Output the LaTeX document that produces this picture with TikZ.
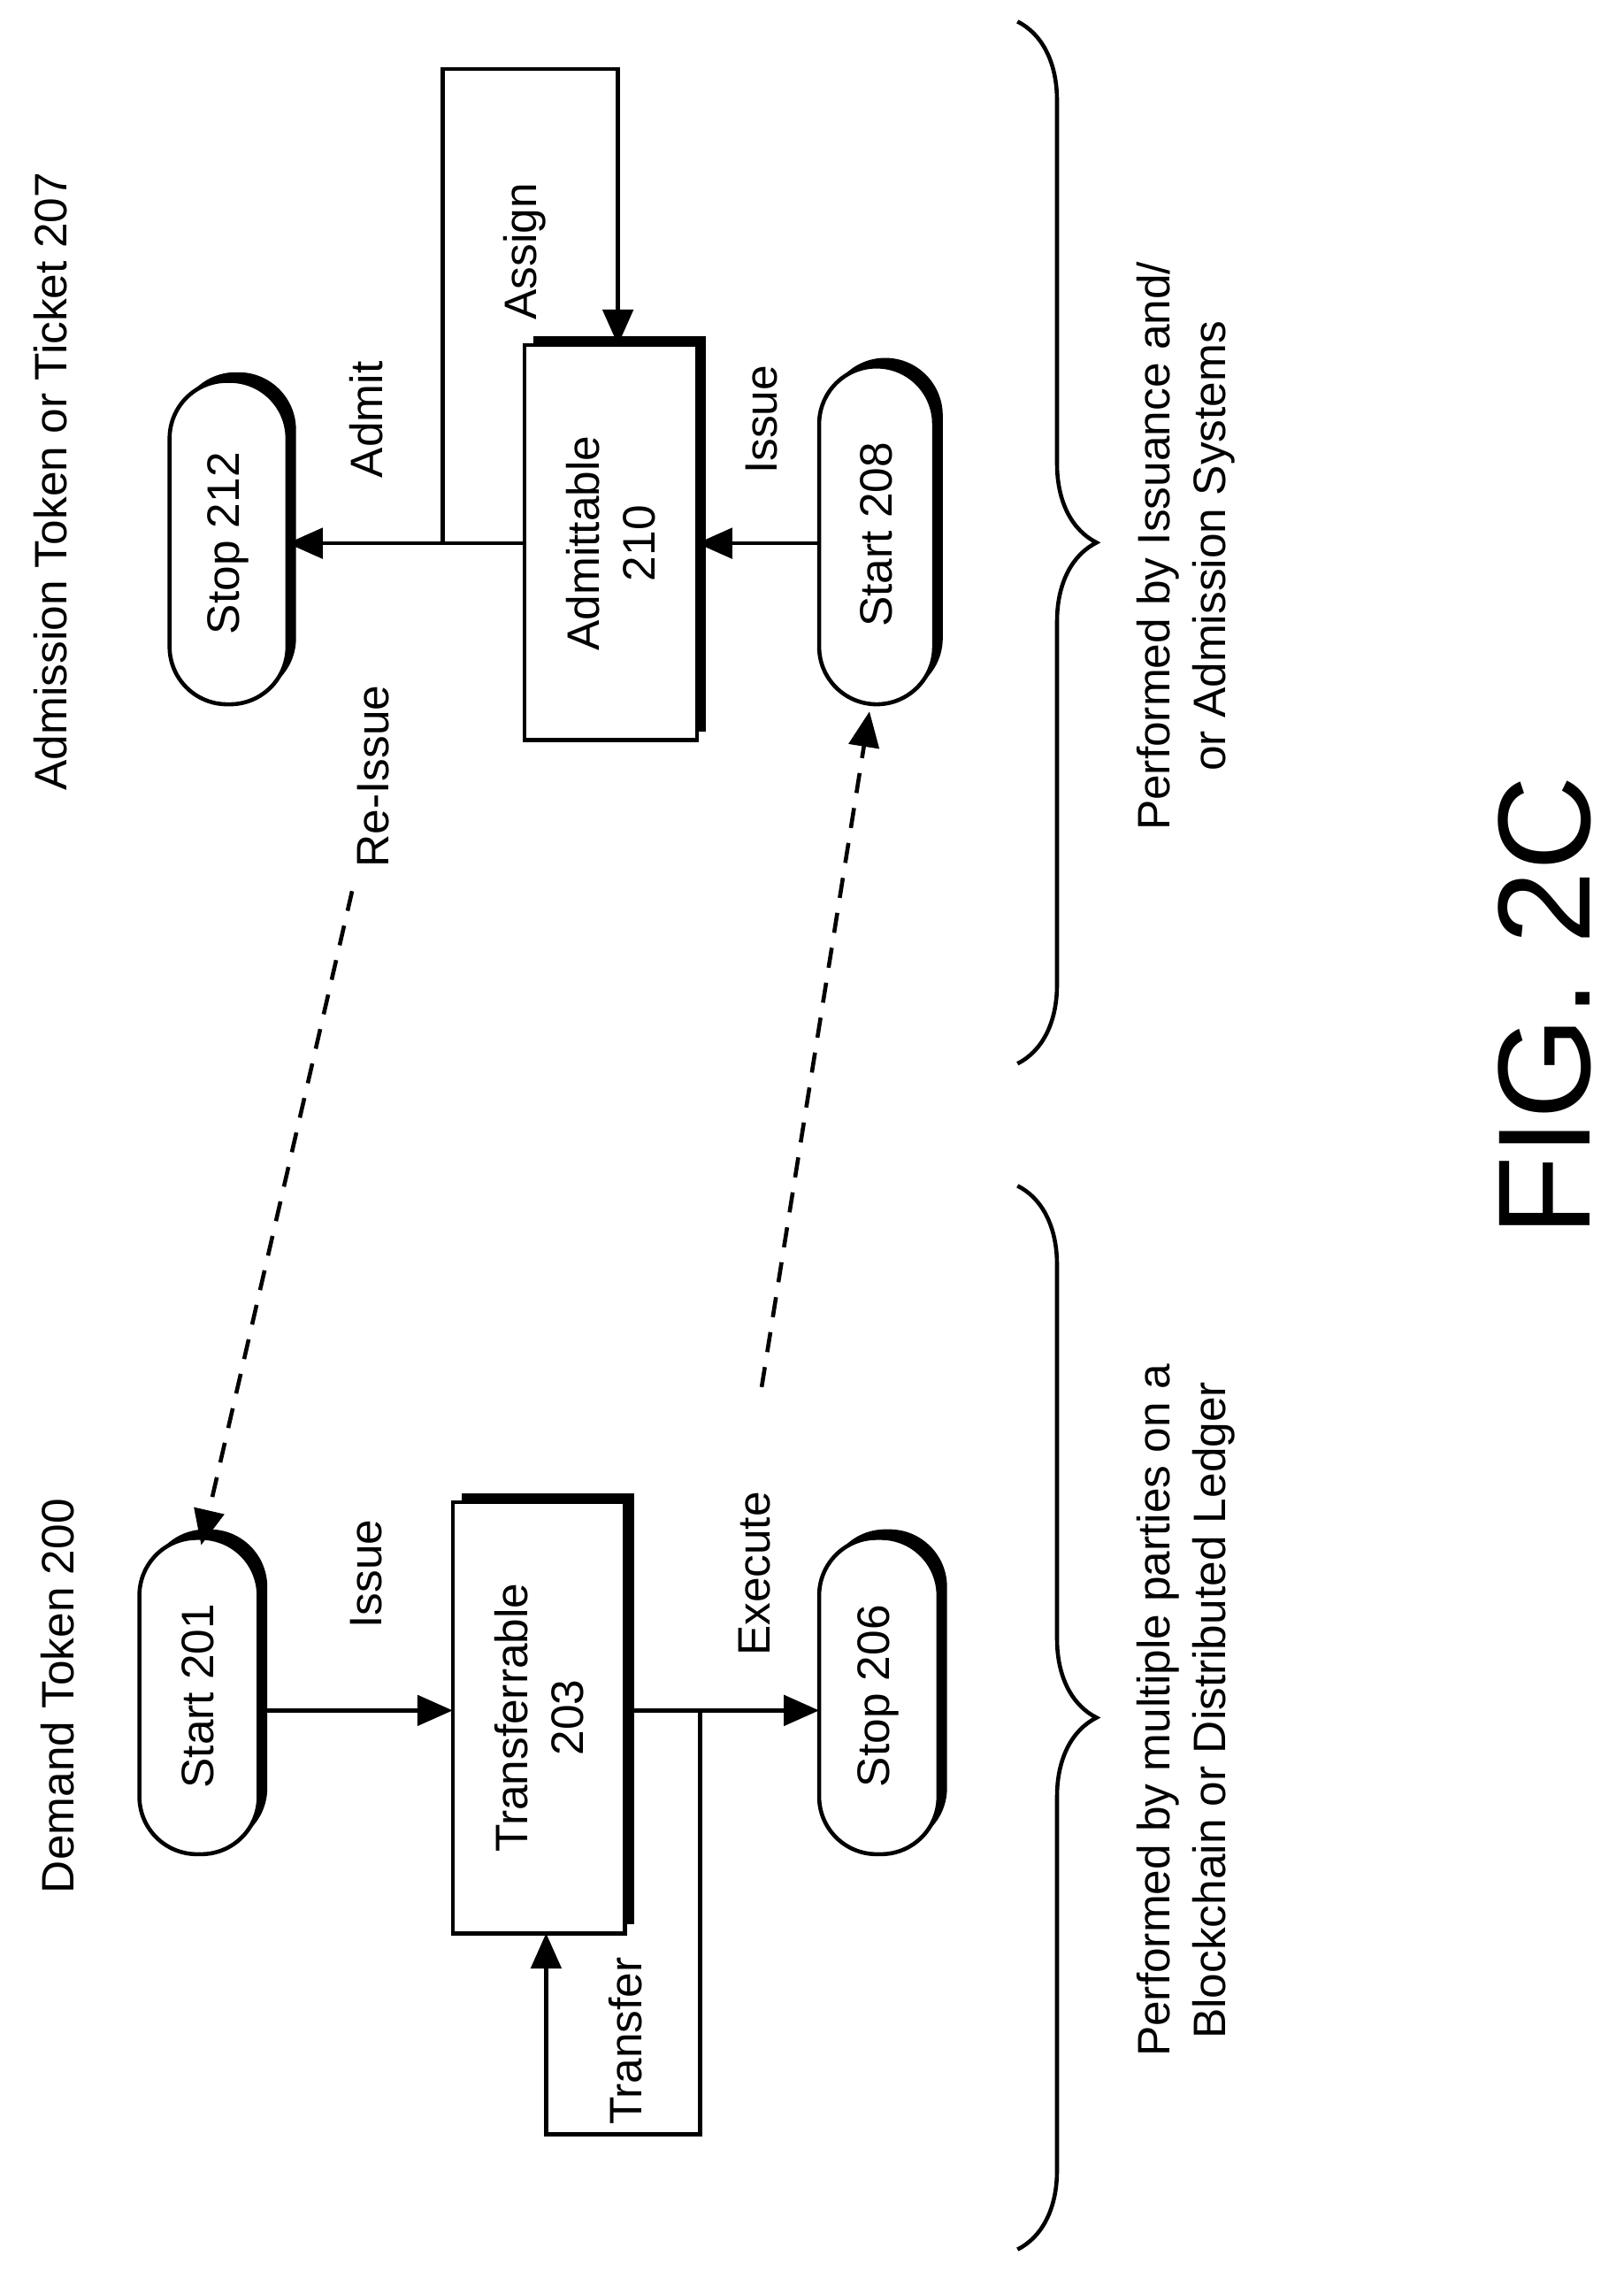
\documentclass[tikz,border=0pt]{standalone}
\usepackage{fontspec}
\setmainfont{Liberation Sans}
\usetikzlibrary{decorations.pathreplacing,arrows.meta}
\begin{document}
\begin{tikzpicture}[x=0.01cm,y=-0.01cm,
  lbl/.style={rotate=90,font=\fontsize{9}{11}\selectfont,align=center},
  arr/.style={-{Triangle[length=7pt,width=6pt]},line width=0.8pt},
  dsh/.style={arr,dashed,dash pattern=on 4pt off 3pt},
  ln/.style={line width=0.8pt},
  br/.style={decorate,decoration={brace,amplitude=0.55cm},line width=0.8pt},
  stad/.style={draw,line width=0.8pt,fill=white,rounded corners=0.4cm},
  shad/.style={fill,rounded corners=0.4cm}]
\useasboundingbox (0,0) rectangle (1130,1580);
% Start 201
\path[shad] (103,1064) rectangle (186,1284);
\draw[stad] (97,1070) rectangle (180,1290);
\node[lbl] (s201) at (138,1180) {Start 201};
% Transferrable 203
\fill (321,1039) rectangle (441,1339);
\draw[ln,fill=white] (315,1045) rectangle (435,1345);
\node[lbl] (t203) at (375,1195) {Transferrable\\203};
% Stop 206
\path[shad] (576,1064) rectangle (659,1284);
\draw[stad] (570,1070) rectangle (653,1290);
\node[lbl] (s206) at (611,1180) {Stop 206};
\draw[arr] (180,1190) -- (315,1190);
\draw[arr] (435,1190) -- (570,1190);
\draw[arr] (487,1190) -- (487,1485) -- (380,1485) -- (380,1345);
\node[lbl] at (255,1095) {Issue};
\node[lbl] at (525,1095) {Execute};
\node[lbl] at (435,1420) {Transfer};
\node[lbl] at (40,1180) {Demand Token 200};
% Stop 212
\path[shad] (124,259) rectangle (206,484);
\draw[stad] (118,265) rectangle (200,490);
\node[lbl] (s212) at (159,378) {Stop 212};
% Admittable 210
\fill (371,234) rectangle (491,509);
\draw[ln,fill=white] (365,240) rectangle (485,515);
\node[lbl] (a210) at (425,378) {Admittable\\210};
% Start 208
\path[shad] (576,249) rectangle (656,484);
\draw[stad] (570,255) rectangle (650,490);
\node[lbl] (s208) at (610,372) {Start 208};
\draw[arr] (570,378) -- (485,378);
\draw[arr] (365,378) -- (200,378);
\draw[arr] (308,378) -- (308,48) -- (430,48) -- (430,240);
\node[lbl] at (530,292) {Issue};
\node[lbl] at (255,292) {Admit};
\node[lbl] at (365,175) {Assign};
\node[lbl] at (35,335) {Admission Token or Ticket 207};
% dashed
\draw[dsh] (245,620) -- (140,1075);
\node[lbl] at (260,540) {Re-Issue};
\draw[dsh] (530,965) -- (605,495);
% braces
\draw[br] (708,15) -- (708,740);
\draw[br] (708,825) -- (708,1565);
\node[lbl] at (825,380) {Performed by Issuance and/\\or Admission Systems};
\node[lbl] at (825,1190) {Performed by multiple parties on a\\Blockchain or Distributed Ledger};
\node[rotate=90,font=\fontsize{26}{30}\selectfont] at (1075,700) {FIG. 2C};
\end{tikzpicture}
\end{document}
